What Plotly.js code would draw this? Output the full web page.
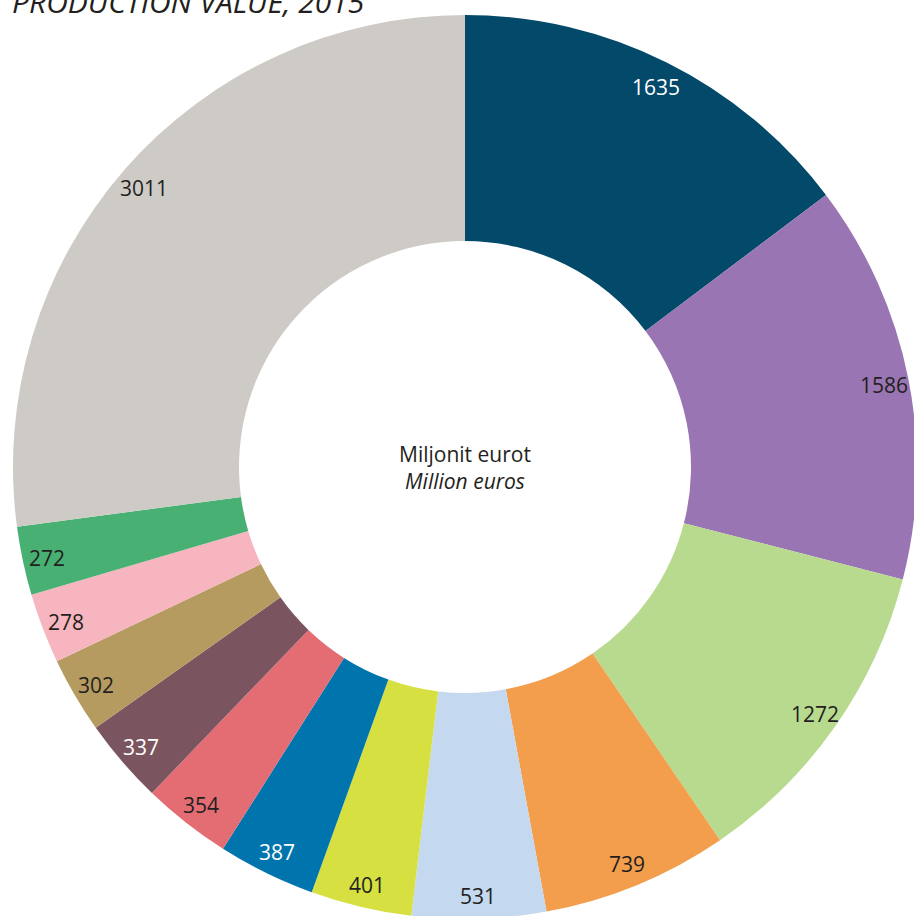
<!DOCTYPE html>
<html>
<head>
<meta charset="utf-8">
<script src="https://cdn.plot.ly/plotly-3.0.1.min.js"></script>
<style>
html,body{margin:0;padding:0;overflow:hidden;background:#fff;}
#chart{width:930px;height:930px;}
</style>
</head>
<body>
<div id="chart"></div>
<script>
const values = [1635, 1586, 1272, 739, 531, 401, 387, 354, 337, 302, 278, 272, 3011];
const labels = ["1635", "1586", "1272", "739", "531", "401", "387", "354", "337", "302", "278", "272", "3011"];
const colors = ["#02496a", "#9a75b3", "#b8da8f", "#f39e4c", "#c4d9ef", "#d6e041", "#0074ad", "#e46d73", "#7a5560", "#b59b5f", "#f6b5bf", "#49b073", "#cecbc6"];
const labelColors = ["#ffffff", "#231f20", "#231f20", "#231f20", "#231f20", "#231f20", "#ffffff", "#231f20", "#ffffff", "#231f20", "#231f20", "#231f20", "#231f20"];
const titleText = "PRODUCTION VALUE, 2015";
const centerText = "Miljonit eurot<br><i>Million euros</i>";

const W = 930, H = 930;
const cx = 465, cy = 467, R = 452, labelR = 427;

const total = values.reduce((a, b) => a + b, 0);
const annotations = [];
let cum = 0;
values.forEach((v, i) => {
  const th = (cum + v / 2) / total * 2 * Math.PI;
  cum += v;
  const px = cx + labelR * Math.sin(th);
  const py = cy - labelR * Math.cos(th) + 2;
  annotations.push({
    x: px / W, y: 1 - py / H, xref: 'paper', yref: 'paper',
    text: labels[i], showarrow: false, xanchor: 'center', yanchor: 'middle',
    font: {family: 'Open Sans, sans-serif', size: 21, color: labelColors[i]}
  });
});
annotations.push({
  x: cx / W, y: 1 - (cy + 1) / H, xref: 'paper', yref: 'paper',
  text: centerText, showarrow: false, xanchor: 'center', yanchor: 'middle',
  font: {family: 'Open Sans, sans-serif', size: 21, color: '#231f20'}
});
annotations.push({
  x: 10 / W, y: 1 - 1 / H, xref: 'paper', yref: 'paper',
  text: '<i>' + titleText + '</i>', showarrow: false, xanchor: 'left', yanchor: 'middle',
  font: {family: 'Open Sans, sans-serif', size: 30, color: '#231f20'}
});

const trace = {
  type: 'pie',
  values: values,
  labels: labels,
  marker: {colors: colors, line: {color: '#ffffff', width: 0}},
  hole: 0.5,
  sort: false,
  direction: 'clockwise',
  rotation: 0,
  textinfo: 'none',
  hoverinfo: 'label+value',
  domain: {x: [(cx - R) / W, (cx + R) / W], y: [1 - (cy + R) / H, 1 - (cy - R) / H]},
  showlegend: false
};

Plotly.newPlot('chart', [trace], {
  width: W, height: H,
  margin: {l: 0, r: 0, t: 0, b: 0},
  paper_bgcolor: '#ffffff',
  showlegend: false,
  annotations: annotations
}, {displayModeBar: false, staticPlot: true});
</script>
</body>
</html>
